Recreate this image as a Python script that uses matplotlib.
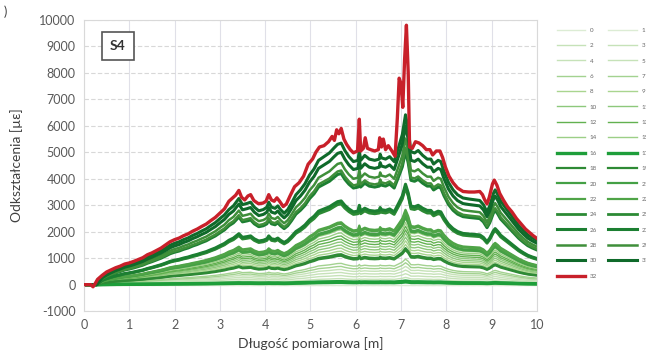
import numpy as np
import matplotlib.pyplot as plt

plt.rcParams['font.family'] = ['Lato', 'DejaVu Sans']
plt.rcParams['axes.unicode_minus'] = False

# red envelope (step 32)
red_x = [0.00, 0.15, 0.20, 0.25, 0.30, 0.40, 0.50, 0.60, 0.70, 0.80, 0.90, 1.00, 1.10, 1.20,
         1.30, 1.40, 1.50, 1.60, 1.70, 1.80, 1.90, 2.00, 2.10, 2.20, 2.30, 2.40, 2.50, 2.60,
         2.70, 2.80, 2.90, 3.00, 3.10, 3.20, 3.30, 3.35, 3.42, 3.48, 3.55, 3.62, 3.68, 3.75,
         3.85, 3.95, 4.02, 4.08, 4.14, 4.20, 4.26, 4.32, 4.40, 4.47, 4.55, 4.65, 4.75, 4.85,
         4.95, 5.05, 5.12, 5.20, 5.30, 5.40, 5.48, 5.53, 5.58, 5.63, 5.68, 5.74, 5.80, 5.88,
         5.95, 6.04, 6.08, 6.11, 6.17, 6.21, 6.26, 6.33, 6.42, 6.50, 6.53, 6.57, 6.61, 6.66,
         6.72, 6.80, 6.87, 6.92, 6.96, 7.00, 7.04, 7.08, 7.12, 7.16, 7.19, 7.25, 7.32, 7.40,
         7.48, 7.56, 7.64, 7.70, 7.78, 7.86, 7.92, 7.98, 8.06, 8.15, 8.25, 8.37, 8.50, 8.62,
         8.74, 8.80, 8.85, 8.90, 8.95, 9.02, 9.06, 9.12, 9.18, 9.26, 9.35, 9.45, 9.55, 9.65,
         9.75, 9.85, 9.92, 10.00]
red_y = [0, 0, -80, 50, 200, 350, 480, 560, 640, 700, 780, 820, 880, 950,
         1020, 1130, 1200, 1290, 1380, 1500, 1620, 1700, 1760, 1850, 1920, 2020, 2100, 2200,
         2290, 2420, 2540, 2700, 2860, 3150, 3300, 3380, 3560, 3300, 3200, 3350, 3400, 3180,
         3060, 3080, 3150, 3400, 3200, 3150, 3280, 3150, 2950, 3050, 3350, 3700, 3850, 4100,
         4550, 4750, 5000, 5200, 5250, 5400, 5600, 5450, 5850, 5700, 5900, 5500, 5300, 5100,
         4980, 5050, 6250, 5050, 5150, 5550, 5150, 5100, 5050, 5100, 5550, 5200, 5500, 5100,
         5250, 5050, 4850, 6300, 7800, 7600, 6700, 8500, 9800, 8000, 5200, 5150, 5400, 5350,
         5250, 5100, 5100, 4900, 5050, 5050, 4800, 4450, 4100, 3850, 3650, 3520, 3500, 3500,
         3520, 3400, 3200, 3050, 3300, 3800, 3950, 3750, 3450, 3200, 2950, 2750, 2500, 2300,
         2100, 1950, 1850, 1750]

# common shape of the green curves (full-scale level)
base_x = [0.00, 0.28, 0.40, 0.50, 0.60, 0.70, 0.80, 0.90, 1.00, 1.10, 1.20, 1.30, 1.40, 1.50,
          1.60, 1.70, 1.80, 1.90, 2.00, 2.10, 2.20, 2.30, 2.40, 2.50, 2.60, 2.70, 2.80, 2.90,
          3.00, 3.10, 3.20, 3.30, 3.42, 3.50, 3.60, 3.68, 3.76, 3.86, 3.96, 4.04, 4.08, 4.14,
          4.22, 4.28, 4.34, 4.42, 4.50, 4.58, 4.68, 4.78, 4.88, 4.98, 5.08, 5.18, 5.30, 5.42,
          5.52, 5.60, 5.68, 5.76, 5.85, 5.95, 6.05, 6.08, 6.11, 6.20, 6.30, 6.42, 6.52, 6.54,
          6.57, 6.66, 6.75, 6.85, 6.95, 7.03, 7.10, 7.16, 7.22, 7.30, 7.38, 7.48, 7.58, 7.66,
          7.72, 7.82, 7.88, 7.95, 8.05, 8.15, 8.25, 8.37, 8.50, 8.62, 8.74, 8.82, 8.90, 8.96,
          9.04, 9.08, 9.14, 9.20, 9.30, 9.40, 9.50, 9.60, 9.70, 9.80, 9.90, 10.00]
base_y = [0, 0, 300, 420, 520, 610, 680, 760, 810, 870, 940, 1010, 1110, 1190,
          1280, 1370, 1480, 1600, 1680, 1740, 1830, 1900, 2000, 2080, 2180, 2270, 2400, 2520,
          2680, 2830, 3050, 3200, 3500, 3250, 3300, 3350, 3150, 3000, 3050, 3150, 3350, 3150,
          3100, 3200, 3050, 2900, 3050, 3300, 3650, 3850, 4100, 4450, 4700, 5050, 5200, 5350,
          5550, 5700, 5750, 5450, 5200, 5000, 5050, 5450, 5050, 5250, 5100, 5050, 5100, 5300,
          5150, 5100, 5200, 5000, 5600, 6100, 6900, 6300, 5400, 5350, 5450, 5250, 5100, 5100,
          4900, 5050, 5000, 4600, 4150, 3850, 3650, 3520, 3480, 3450, 3420, 3250, 2950, 3200,
          3700, 3850, 3650, 3400, 3150, 2900, 2650, 2400, 2200, 2020, 1900, 1800]

# relative level of each load step 0..31
levels = [0.0, 0.02, 0.04, 0.06, 0.08, 0.10, 0.12, 0.14, 0.22, 0.24, 0.26, 0.28, 0.30, 0.32,
          0.34, 0.36, 0.015, 0.02, 0.19, 0.20, 0.37, 0.38, 0.40, 0.41, 0.53, 0.54, 0.55, 0.73,
          0.75, 0.80, 0.87, 0.93]

colors = ['#dcecd4', '#dcecd4', '#c6e2b8', '#c6e2b8', '#c6e2b8', '#c6e2b8',
          '#a3d290', '#a3d290', '#a9d58f', '#a9d58f', '#8dc87b', '#8dc87b',
          '#62b150', '#62b150', '#9ccf86', '#9ccf86', '#1e9e3a', '#1e9e3a',
          '#2e8a35', '#2e8a35', '#44a045', '#44a045', '#4fa447', '#4fa447',
          '#2c8a34', '#2c8a34', '#1c7f32', '#1c7f32', '#3f8f3a', '#3f8f3a',
          '#0f6a2a', '#0f6a2a']
widths = [1.0] * 16 + [2.4, 2.4] + [1.6] * 6 + [2.0, 2.0, 2.2, 2.2, 1.8, 1.8, 2.2, 2.2]

fig = plt.figure(figsize=(6.46, 3.56), dpi=100)
ax = fig.add_axes([0.130, 0.126, 0.701, 0.818])

handles = []
for i, lv in enumerate(levels):
    y = np.array(base_y) * lv
    h, = ax.plot(base_x, y, color=colors[i], lw=widths[i], label=str(i), zorder=2 + i * 0.01)
    handles.append(h)
h, = ax.plot(red_x, red_y, color='#c8202a', lw=2.4, label='32', zorder=3)
handles.append(h)

ax.set_xlim(0, 10)
ax.set_ylim(-1000, 10000)
ax.set_xticks(range(0, 11))
ax.set_yticks(range(-1000, 10001, 1000))
ax.tick_params(length=0, labelsize=9, colors='#595959', pad=6)
ax.grid(axis='x', color='#e0e0e8', lw=0.8)
ax.grid(axis='y', color='#d8d8d8', lw=0.8, ls=(0, (4, 2)))
ax.set_axisbelow(True)
for s in ax.spines.values():
    s.set_color('#d9d9d9')
    s.set_linewidth(0.8)

ax.set_xlabel('Długość pomiarowa [m]', fontsize=10, color='#404040', labelpad=4)
ax.set_ylabel('Odkształcenia [µε]', fontsize=10, color='#404040', labelpad=12)

ax.text(0.075, 0.91, 'S4', transform=ax.transAxes, ha='center', va='center',
        fontsize=10, fontweight='bold', color='#333333',
        bbox=dict(boxstyle='square,pad=0.6', fc='white', ec='#555555', lw=1.2))

# legend in row order: 0 1 / 2 3 / ...
order = list(range(0, 33, 2)) + list(range(1, 33, 2))
leg = fig.legend([handles[k] for k in order], [str(k) for k in order],
                 ncol=2, loc='upper left', bbox_to_anchor=(0.858, 0.93),
                 frameon=False, fontsize=4.5, handlelength=4.5, handletextpad=0.8,
                 columnspacing=1.8, labelspacing=1.6, borderaxespad=0)
for t in leg.get_texts():
    t.set_color('#666666')

fig.text(0.005, 0.985, ')', fontsize=9, color='#404040', va='top')

fig.savefig('out.png', dpi=100)
